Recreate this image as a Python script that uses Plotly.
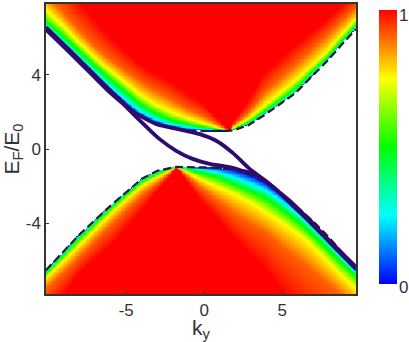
import numpy as np
import plotly.graph_objects as go

SCALE_LEVELS = [0.0, 0.25, 0.5, 0.75, 1.0]
SCALE_COLORS = ["#0000ff", "#00ffff", "#00ff00", "#ffff00", "#ff0000"]
LEVELS = [0.0, 0.25, 0.5, 0.75, 0.906, 1.0]

# lower band: iso-value curves E(k)
low_k = [-10.15,-8,-6,-4,-3,-2,-1.8,0,1,2,3,4,5,6,7,8,9,9.75]
low_edge = [-6.51,-4.59,-3.04,-1.6,-1.17,-0.99,-0.96,-0.99,-1.01,-1.12,-1.39,-1.81,-2.45,-3.15,-3.89,-4.75,-5.71,-6.4]
low_cyan = [-6.61,-4.69,-3.09,-1.65,-1.23,-1.01,-0.96,-1.12,-1.28,-1.55,-1.87,-2.24,-2.83,-3.47,-4.21,-5.07,-5.97,-6.61]
low_green = [-6.72,-4.8,-3.2,-1.76,-1.33,-1.04,-0.96,-1.33,-1.55,-1.92,-2.29,-2.67,-3.25,-3.89,-4.64,-5.44,-6.24,-6.83]
low_yellow = [-6.93,-5.17,-3.47,-1.97,-1.49,-1.09,-0.96,-1.71,-2.08,-2.45,-2.88,-3.41,-3.95,-4.53,-5.23,-6.08,-6.93,-7.52]
low_orange = [-7.57,-5.81,-4.11,-2.51,-1.87,-1.17,-0.96,-2.24,-2.88,-3.52,-4.05,-4.53,-5.28,-5.92,-6.61,-7.31,-8.0,-8.64]
low_red = [-9.17,-6.67,-5.23,-3.31,-2.24,-1.28,-0.96,-2.99,-3.84,-4.85,-5.71,-6.51,-7.68,-8.64,-9.6,-10.56,-11.52,-12.27]

# upper band: iso-value curves E(k)
up_k = [-10.15,-9.16,-8.16,-7.16,-6.16,-5.16,-4.16,-3.16,-2.16,-1.16,-0.16,1.64,1.84,2.84,3.84,5.84,7.84,9.74]
up_edge = [6.51,5.71,4.85,4.05,3.2,2.45,1.81,1.39,1.12,0.99,0.96,0.96,0.99,1.28,1.81,2.99,4.69,6.45]
up_cyan = [6.61,5.81,5.01,4.21,3.41,2.72,2.03,1.6,1.31,1.17,1.07,0.96,1.01,1.33,1.87,3.04,4.75,6.51]
up_green = [6.83,6.13,5.39,4.59,3.84,3.15,2.45,1.92,1.55,1.33,1.17,0.96,1.04,1.39,1.97,3.2,4.85,6.61]
up_yellow = [7.47,6.67,5.81,5.01,4.27,3.63,2.93,2.4,1.97,1.65,1.39,0.96,1.12,1.6,2.29,3.63,5.17,6.99]
up_orange = [8.32,7.47,6.51,5.65,4.91,4.27,3.68,3.15,2.72,2.19,1.81,0.96,1.23,1.92,2.99,4.53,6.08,7.63]
up_red = [10.29,9.23,8.05,7.09,6.13,5.33,4.59,4.05,3.63,3.04,2.51,0.96,1.39,2.56,4.05,5.55,6.93,8.43]

# the two solid curves
curve1_k = [-10.15,-8.64,-7.36,-6.07,-5.11,-4.6,-3.82,-3.05,-2.41,-1.38,-0.29,0.8,1.83,2.92,4.02,4.85,5.69,6.78,8.07,9.74]
curve1_E = [6.54,5.31,4.25,3.18,2.43,2.03,1.65,1.33,1.2,1.01,0.8,0.43,-0.21,-1.07,-1.76,-2.35,-2.93,-3.85,-4.95,-6.34]
curve2_k = [-10.15,-8.64,-7.36,-6.07,-5.24,-4.6,-3.95,-2.86,-1.77,-0.74,0.35,1.19,1.83,2.47,3.12,4.4,5.94,6.78,8.07,9.74]
curve2_E = [6.42,5.19,4.13,3.06,2.45,1.92,1.39,0.53,-0.11,-0.53,-0.8,-0.91,-1.01,-1.17,-1.33,-2.03,-3.25,-3.93,-5.03,-6.46]

x_ticks = [-5, 0, 5]
x_tick_text = ["-5", "0", "5"]
y_ticks = [-4, 0, 4]
y_tick_text = ["-4", "0", "4"]
bar_labels = ["1", "0"]

X_RANGE = [-10.15, 9.74]
Y_RANGE = [-7.79, 7.79]

kx = np.linspace(X_RANGE[0], X_RANGE[1], 230)
ey = np.linspace(Y_RANGE[0], Y_RANGE[1], 220)


def band(ks, isos, sign):
    # resample the read iso-curves onto the raster
    cols = np.array([np.interp(kx, ks, c) for c in isos]) * sign
    cols = np.maximum.accumulate(cols, axis=0)
    out = np.full((len(ey), len(kx)), np.nan)
    for j in range(len(kx)):
        xp = cols[:, j] + np.arange(len(LEVELS)) * 1e-6
        e = ey * sign
        v = np.interp(e, xp, LEVELS)
        v[e < xp[0]] = np.nan
        out[:, j] = v
    return out


def soften(field, n=7):
    # remove the kinks of the resampled iso-curves in the yellow-to-red part
    filled = np.nan_to_num(field, nan=0.0)
    pad = n // 2
    work = np.pad(filled, pad, mode="edge")
    box = np.ones(n) / n
    work = np.apply_along_axis(lambda a: np.convolve(a, box, mode="same"), 0, work)
    work = np.apply_along_axis(lambda a: np.convolve(a, box, mode="same"), 1, work)
    work = work[pad:-pad, pad:-pad]
    return np.where(field > 0.8, np.maximum(work, field), field)


z_low = band(low_k, [low_edge, low_cyan, low_green, low_yellow, low_orange, low_red], -1)
z_up = band(up_k, [up_edge, up_cyan, up_green, up_yellow, up_orange, up_red], 1)
z = soften(np.where(np.isnan(z_up), z_low, z_up))

fig = go.Figure()
fig.add_trace(go.Heatmap(
    x=kx, y=ey, z=z, zmin=0, zmax=1,
    colorscale=[[l, c] for l, c in zip(SCALE_LEVELS, SCALE_COLORS)],
    colorbar=dict(
        xref="container", yref="container", x=379 / 409, y=1 - 12 / 342,
        xanchor="left", yanchor="top", lenmode="fraction", len=276 / 292,
        thickness=18, thicknessmode="pixels", xpad=0, ypad=0,
        outlinewidth=0, borderwidth=0, ticks="", showticklabels=False,
    ),
))
for ks, es in ((low_k, low_edge), (up_k, up_edge)):
    fig.add_trace(go.Scatter(x=ks, y=es, mode="lines",
                             line=dict(color="#222222", width=2.2, dash="8px,4px")))
for ks, es in ((curve1_k, curve1_E), (curve2_k, curve2_E)):
    fig.add_trace(go.Scatter(x=ks, y=es, mode="lines",
                             line=dict(color="#2f0b70", width=3.8, shape="spline")))

axis = dict(showline=True, linecolor="#333333", linewidth=1.5, mirror=True,
            ticks="inside", ticklen=3, tickwidth=1, tickcolor="#333333",
            showgrid=False, zeroline=False,
            tickfont=dict(family="Liberation Sans", size=17, color="#333333"))
fig.update_layout(
    width=409, height=342,
    margin=dict(l=46, r=53, t=2, b=48),
    paper_bgcolor="white", plot_bgcolor="white", showlegend=False,
    font=dict(family="Liberation Sans", color="#333333"),
    xaxis=dict(axis, range=X_RANGE, tickvals=x_ticks, ticktext=x_tick_text,
               title=dict(text="k<sub>y</sub>", font=dict(size=21), standoff=0)),
    yaxis=dict(axis, range=Y_RANGE, tickvals=y_ticks, ticktext=y_tick_text,
               title=dict(text="E<sub>F</sub>/E<sub>0</sub>", font=dict(size=21), standoff=4)),
    annotations=[
        dict(text=bar_labels[0], xref="paper", yref="paper", x=1.174, y=0.962,
             xanchor="right", yanchor="middle", showarrow=False,
             font=dict(family="Liberation Sans", size=17, color="#333333")),
        dict(text=bar_labels[1], xref="paper", yref="paper", x=1.174, y=0.024,
             xanchor="right", yanchor="middle", showarrow=False,
             font=dict(family="Liberation Sans", size=17, color="#333333")),
    ],
)
fig.write_html("out.html", config={"displayModeBar": False},
               post_script="document.body.style.margin='0';document.body.style.overflow='hidden';")
